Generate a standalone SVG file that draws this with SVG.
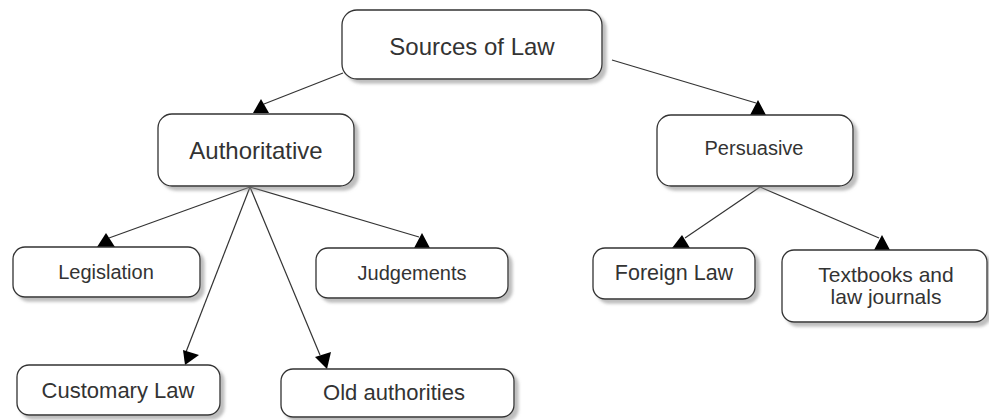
<svg xmlns="http://www.w3.org/2000/svg" width="989" height="420" viewBox="0 0 989 420">
<defs>
<filter id="sh" x="-10%" y="-10%" width="130%" height="140%">
<feDropShadow dx="4" dy="4" stdDeviation="1.5" flood-color="#888" flood-opacity="0.55"/>
</filter>
<style>
.box{fill:#fff;stroke:#333;stroke-width:1.3;filter:url(#sh)}
.lbl{font-family:"Liberation Sans",Arial,sans-serif;fill:#333;text-anchor:middle}
.con line{stroke:#333;stroke-width:1.2}
.con polygon{fill:#000}
</style>
</defs>
<rect width="989" height="420" fill="#fff"/>
<g id="connectors" class="con">
<line x1="343" y1="73" x2="264" y2="104"/>
<polygon points="261,99 253,113 269,113"/>
<line x1="612" y1="60" x2="756" y2="103"/>
<polygon points="758,100 750,115 766,115"/>
<line x1="250" y1="187" x2="109" y2="238"/>
<polygon points="106,233 97,247 115,247"/>
<line x1="250" y1="187" x2="419" y2="237"/>
<polygon points="422,233 414,248 430,248"/>
<line x1="250" y1="187" x2="186" y2="352"/>
<polygon points="183,350 199,355 185,365"/>
<line x1="250" y1="187" x2="320" y2="355"/>
<polygon points="315,357 331,352 327,369"/>
<line x1="760" y1="187" x2="685" y2="238"/>
<polygon points="682,235 672,248 690,248"/>
<line x1="760" y1="187" x2="879" y2="238"/>
<polygon points="882,235 874,250 890,250"/>
</g>
<g id="sources">
<rect class="box" x="342" y="10" width="260" height="69" rx="15"/>
<text class="lbl" x="472" y="55" font-size="24">Sources of Law</text>
</g>
<g id="authoritative">
<rect class="box" x="158" y="114" width="196" height="72" rx="14"/>
<text class="lbl" x="256" y="159" font-size="24">Authoritative</text>
</g>
<g id="persuasive">
<rect class="box" x="657" y="115" width="196" height="71" rx="14"/>
<text class="lbl" x="754" y="155" font-size="20">Persuasive</text>
</g>
<g id="legislation">
<rect class="box" x="13" y="247" width="187" height="50" rx="12"/>
<text class="lbl" x="106" y="279" font-size="20">Legislation</text>
</g>
<g id="judgements">
<rect class="box" x="316" y="248" width="192" height="50" rx="12"/>
<text class="lbl" x="412" y="280" font-size="20">Judgements</text>
</g>
<g id="customary">
<rect class="box" x="17" y="365" width="203" height="50" rx="12"/>
<text class="lbl" x="118" y="398" font-size="22">Customary Law</text>
</g>
<g id="old">
<rect class="box" x="281" y="369" width="233" height="48" rx="12"/>
<text class="lbl" x="394" y="400" font-size="22">Old authorities</text>
</g>
<g id="foreign">
<rect class="box" x="593" y="248" width="162" height="51" rx="12"/>
<text class="lbl" x="674" y="280" font-size="21.5">Foreign Law</text>
</g>
<g id="textbooks">
<rect class="box" x="782" y="250" width="205" height="72" rx="12"/>
<text class="lbl" x="886" y="282" font-size="21">Textbooks and</text>
<text class="lbl" x="886" y="304" font-size="21">law journals</text>
</g>
</svg>
